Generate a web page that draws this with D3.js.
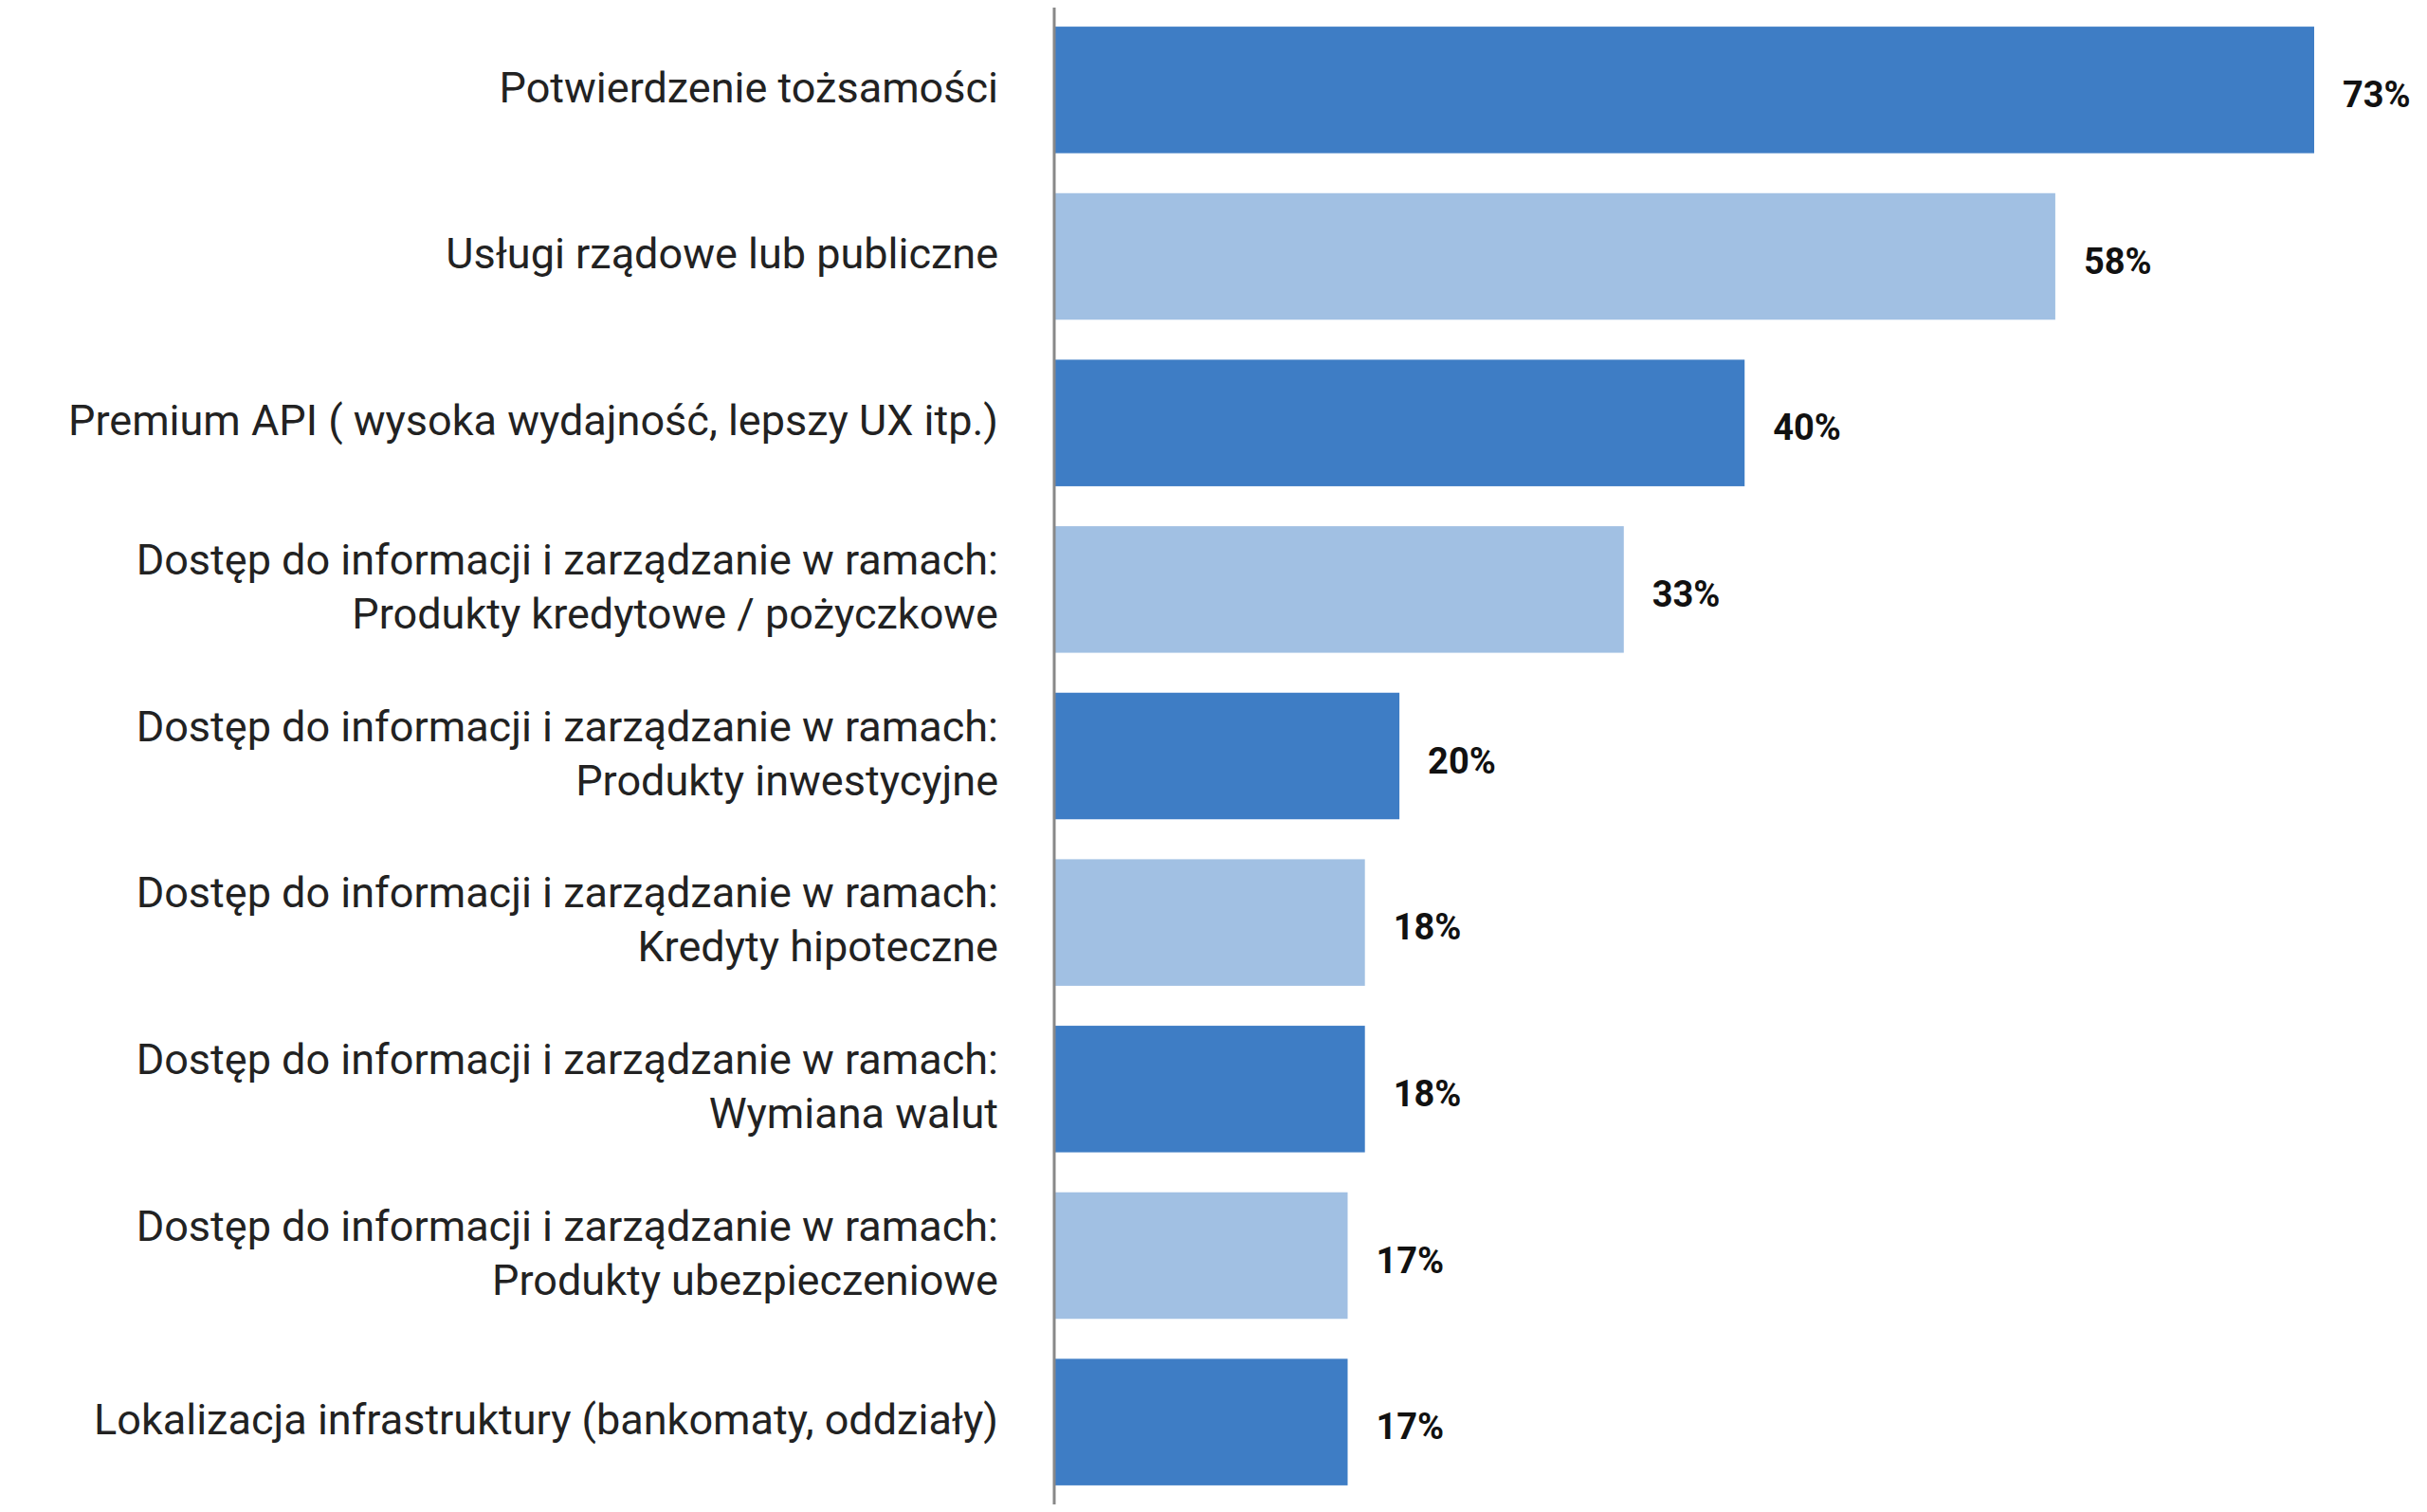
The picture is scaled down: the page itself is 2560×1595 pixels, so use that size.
<!DOCTYPE html>
<html>
<head>
<meta charset="utf-8">
<script src="https://cdn.jsdelivr.net/npm/d3@7"></script>
<style>
  body { margin: 0; background: #fff; }
  text { font-family: Roboto, "Noto Sans", sans-serif; }
</style>
</head>
<body>
<svg id="chart" width="2560" height="1595"></svg>
<script>
/* global d3 */
// categories (each entry = label lines)
var categories = [
    ["Potwierdzenie tożsamości"],
    ["Usługi rządowe lub publiczne"],
    ["Premium API ( wysoka wydajność, lepszy UX itp.)"],
    ["Dostęp do informacji i zarządzanie w ramach:", "Produkty kredytowe / pożyczkowe"],
    ["Dostęp do informacji i zarządzanie w ramach:", "Produkty inwestycyjne"],
    ["Dostęp do informacji i zarządzanie w ramach:", "Kredyty hipoteczne"],
    ["Dostęp do informacji i zarządzanie w ramach:", "Wymiana walut"],
    ["Dostęp do informacji i zarządzanie w ramach:", "Produkty ubezpieczeniowe"],
    ["Lokalizacja infrastruktury (bankomaty, oddziały)"]
];
var values = [73, 58, 40, 33, 20, 18, 18, 17, 17];

var svg = d3.select("#chart");
var x0 = 1112;

var y = d3.scaleBand()
    .domain(d3.range(categories.length))
    .range([0, 1595])
    .paddingInner(0.24)
    .paddingOuter(0.16);

var x = d3.scaleLinear()
    .domain([0, 73])
    .range([x0, 2441]);

// bars
svg.selectAll("rect.bar")
    .data(values)
    .enter()
    .append("rect")
    .attr("class", "bar")
    .attr("x", x0)
    .attr("y", function(d, i) { return y(i); })
    .attr("width", function(d) { return x(d) - x0; })
    .attr("height", y.bandwidth())
    .attr("fill", function(d, i) { return i % 2 === 0 ? "#3e7dc5" : "#a1c0e3"; });

// value labels
svg.selectAll("text.val")
    .data(values)
    .enter()
    .append("text")
    .attr("class", "val")
    .attr("x", function(d) { return x(d) + 30; })
    .attr("y", function(d, i) { return y(i) + y.bandwidth() / 2 + 5; })
    .attr("dy", "0.35em")
    .attr("font-size", 38)
    .attr("font-weight", "bold")
    .attr("fill", "#111")
    .text(function(d) { return d + "%"; });

// category labels
var lineH = 57;
svg.selectAll("text.cat")
    .data(categories)
    .enter()
    .append("text")
    .attr("class", "cat")
    .attr("text-anchor", "end")
    .attr("font-size", 45)
    .attr("fill", "#222")
    .each(function(lines, i) {
        var cy = y(i) + y.bandwidth() / 2 - 3;
        var start = cy - (lines.length - 1) * lineH / 2;
        d3.select(this).selectAll("tspan")
            .data(lines)
            .enter()
            .append("tspan")
            .attr("x", 1053)
            .attr("y", function(l, j) { return start + j * lineH; })
            .attr("dy", "0.35em")
            .text(function(l) { return l; });
    });

// axis line
svg.append("line")
    .attr("x1", x0).attr("x2", x0)
    .attr("y1", 8).attr("y2", 1587)
    .attr("stroke", "#888")
    .attr("stroke-width", 3);
</script>
</body>
</html>
